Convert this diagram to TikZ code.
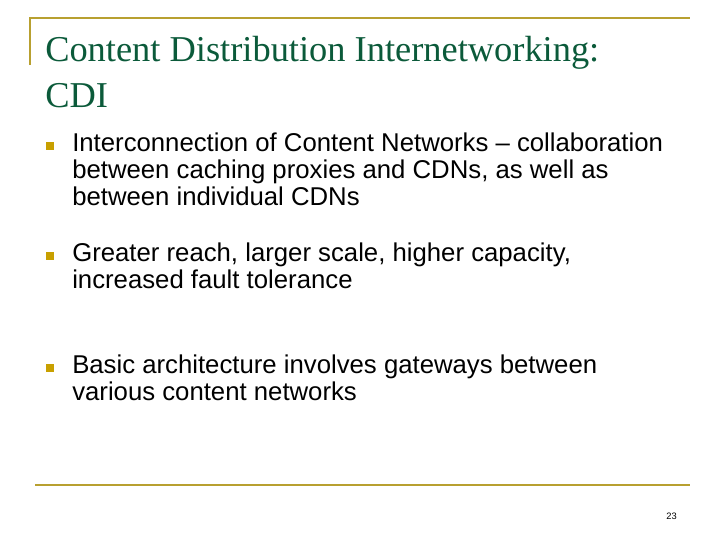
\documentclass[tikz,border=0pt]{standalone}
\usepackage{fontspec}
\setmainfont{Liberation Serif}
\setsansfont{Liberation Sans}
\definecolor{ttl}{HTML}{0B5A3A}
\definecolor{gold}{HTML}{C8A000}
\definecolor{rule}{HTML}{B8A030}
\begin{document}
\begin{tikzpicture}[x=0.75pt,y=-0.75pt,
  title/.style={anchor=base west,inner sep=0,font=\fontsize{27.3}{33}\selectfont,text=ttl},
  body/.style={anchor=base west,inner sep=0,font=\sffamily\fontsize{19.3}{23}\selectfont},
  bul/.style={fill=gold,minimum size=6pt,inner sep=0}]
\useasboundingbox (0,0) rectangle (720,540);
\draw[rule,line width=1.2pt] (30,65) -- (30,18) -- (690,18);
\draw[rule,line width=1.2pt] (35,485) -- (690,485);
\node[title] (t1) at (45,61) {Content Distribution Internetworking:};
\node[title] (t2) at (45,107) {CDI};
\node[bul] (b1) at (50,146) {};
\node[body] (p1a) at (72,151) {Interconnection of Content Networks -- collaboration};
\node[body] (p1b) at (72,178) {between caching proxies and CDNs, as well as};
\node[body] (p1c) at (72,205) {between individual CDNs};
\node[bul] (b2) at (50,256) {};
\node[body] (p2a) at (72,261) {Greater reach, larger scale, higher capacity,};
\node[body] (p2b) at (72,288) {increased fault tolerance};
\node[bul] (b3) at (50,368) {};
\node[body] (p3a) at (72,373) {Basic architecture involves gateways between};
\node[body] (p3b) at (72,400) {various content networks};
\node[anchor=base east,inner sep=0,font=\sffamily\fontsize{7}{8}\selectfont] (n) at (677,519) {23};
\end{tikzpicture}
\end{document}
